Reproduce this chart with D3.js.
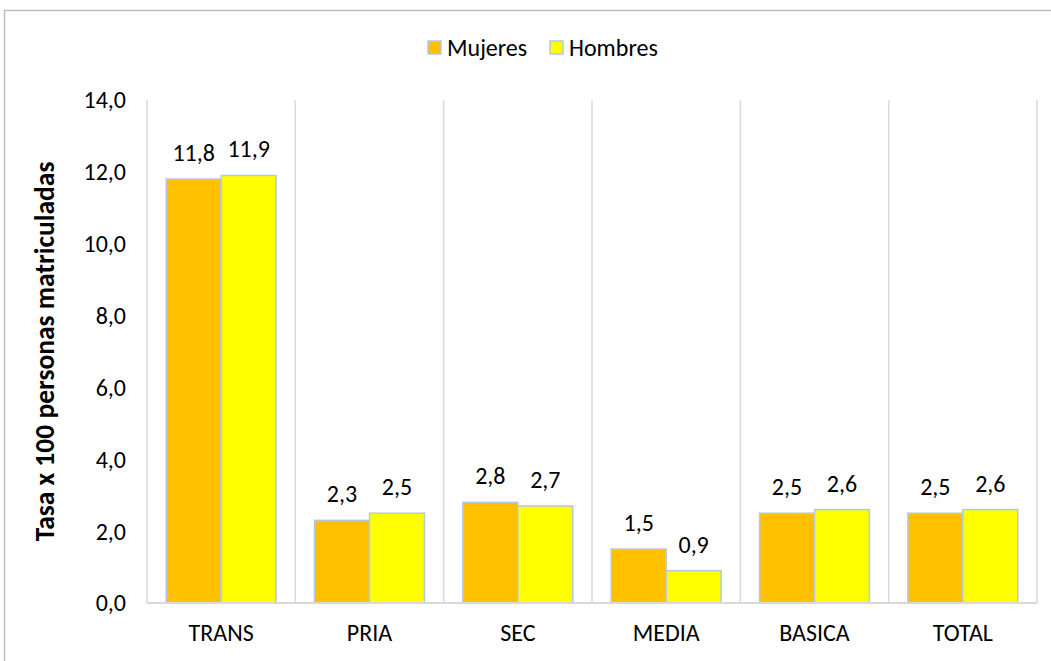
<!DOCTYPE html>
<html>
<head>
<meta charset="utf-8">
<script src="https://cdn.jsdelivr.net/npm/d3@7"></script>
<style>
  body { margin: 0; background: #fff; }
  text { font-family: Carlito, Calibri, "Open Sans", "Liberation Sans", sans-serif; fill: #000; }
</style>
</head>
<body>
<svg id="chart"></svg>
<script>
const categories = ["TRANS", "PRIA", "SEC", "MEDIA", "BASICA", "TOTAL"];
const seriesNames = ["Mujeres", "Hombres"];
const mujeres = [11.8, 2.3, 2.8, 1.5, 2.5, 2.5];
const hombres = [11.9, 2.5, 2.7, 0.9, 2.6, 2.6];
const yTicks = [0, 2, 4, 6, 8, 10, 12, 14];
const colors = ["#FFC000", "#FFFF00"];

const width = 1051;
const height = 661;
const margin = { top: 100, right: 14, bottom: 58, left: 147 };

const svg = d3.select("#chart")
    .attr("width", width)
    .attr("height", height);

// outer frame
svg.append("rect")
    .attr("x", 4.5).attr("y", 10.5)
    .attr("width", 1060).attr("height", 700)
    .attr("fill", "none").attr("stroke", "#bfbfbf").attr("stroke-width", 1.5);

const x0 = d3.scaleBand()
    .domain(categories)
    .range([margin.left, width - margin.right])
    .paddingInner(0).paddingOuter(0);

const x1 = d3.scaleBand()
    .domain(seriesNames)
    .range([0, x0.bandwidth()])
    .paddingOuter(0.35).paddingInner(0);

const y = d3.scaleLinear()
    .domain([0, 14])
    .range([height - margin.bottom, margin.top]);

// vertical gridlines at category boundaries
const bounds = categories.map(c => x0(c)).concat([x0.range()[1]]);
svg.append("g").selectAll("line")
    .data(bounds)
    .join("line")
    .attr("x1", d => d).attr("x2", d => d)
    .attr("y1", margin.top).attr("y2", height - margin.bottom)
    .attr("stroke", "#d9d9d9").attr("stroke-width", 1.5);

// y tick labels
svg.append("g").selectAll("text")
    .data(yTicks)
    .join("text")
    .attr("x", margin.left - 21)
    .attr("y", d => y(d))
    .attr("dy", "0.35em")
    .attr("text-anchor", "end")
    .style("font-size", "24px")
    .text(d => d3.format(".1f")(d).replace(".", ","));

// bars
const rows = categories.map((c, i) => ({ cat: c, vals: [mujeres[i], hombres[i]] }));
const groups = svg.append("g").selectAll("g")
    .data(rows)
    .join("g")
    .attr("transform", d => `translate(${x0(d.cat)},0)`);

groups.selectAll("rect")
    .data(d => d.vals.map((v, j) => ({ s: seriesNames[j], v, j })))
    .join("rect")
    .attr("x", d => x1(d.s))
    .attr("y", d => y(d.v))
    .attr("width", x1.bandwidth())
    .attr("height", d => y(0) - y(d.v))
    .attr("fill", d => colors[d.j])
    .attr("stroke", "#b4c7e7")
    .attr("stroke-width", 1.5);

groups.selectAll("text.val")
    .data(d => d.vals.map((v, j) => ({ s: seriesNames[j], v, j })))
    .join("text")
    .attr("class", "val")
    .attr("x", d => x1(d.s) + x1.bandwidth() / 2)
    .attr("y", d => y(d.v) - 18)
    .attr("text-anchor", "middle")
    .style("font-size", "24px")
    .text(d => d3.format(".1f")(d.v).replace(".", ","));

// x axis line
svg.append("line")
    .attr("x1", margin.left).attr("x2", width - margin.right)
    .attr("y1", y(0)).attr("y2", y(0))
    .attr("stroke", "#d9d9d9").attr("stroke-width", 2);

// category labels
svg.append("g").selectAll("text")
    .data(categories)
    .join("text")
    .attr("x", d => x0(d) + x0.bandwidth() / 2)
    .attr("y", y(0) + 38)
    .attr("text-anchor", "middle")
    .style("font-size", "24px")
    .text(d => d);

// y axis title
svg.append("text")
    .attr("transform", `translate(54, ${(margin.top + height - margin.bottom) / 2}) rotate(-90)`)
    .attr("text-anchor", "middle")
    .style("font-size", "27.5px")
    .style("font-weight", "bold")
    .text("Tasa x 100 personas matriculadas");

// legend
const legend = svg.append("g").attr("transform", "translate(428, 48)");
const legendX = [0, 122];
seriesNames.forEach((s, i) => {
    const g = legend.append("g").attr("transform", `translate(${legendX[i]},0)`);
    g.append("rect")
        .attr("x", 0).attr("y", -7)
        .attr("width", 13).attr("height", 13)
        .attr("fill", colors[i])
        .attr("stroke", "#b4c7e7").attr("stroke-width", 1.5);
    g.append("text")
        .attr("x", 19).attr("y", 0)
        .attr("dy", "0.35em")
        .style("font-size", "24px")
        .text(s);
});
</script>
</body>
</html>
